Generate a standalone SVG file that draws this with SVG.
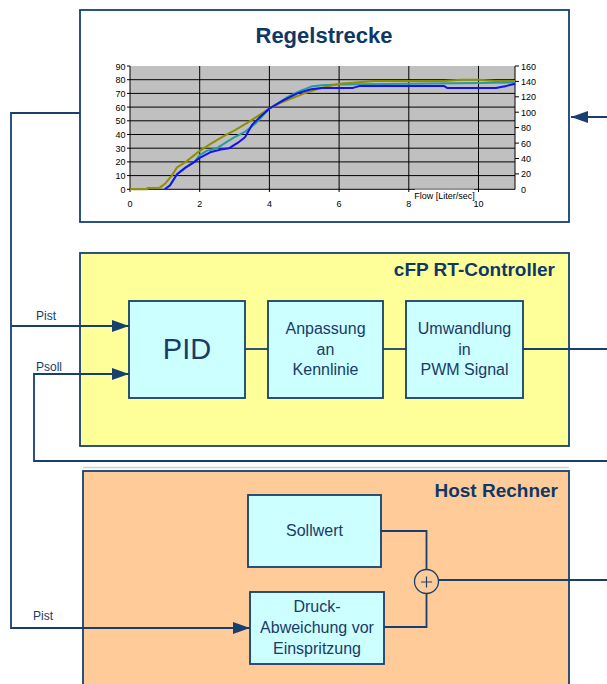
<svg xmlns="http://www.w3.org/2000/svg" width="607" height="684" viewBox="0 0 607 684">
<style>
.panel{stroke:#17406f;stroke-width:1.8}
.node{fill:#ccffff;stroke:#17406f;stroke-width:1.8}
.t{font-family:"Liberation Sans",Arial,sans-serif;fill:#1a3a68}
.title{font-family:"Liberation Sans",Arial,sans-serif;font-weight:bold;fill:#0f3866}
.lbl{font-family:"Liberation Sans",Arial,sans-serif;font-size:16px;fill:#1a3a68;text-anchor:middle}
.ax{font-family:"Liberation Sans",Arial,sans-serif;font-size:9px;fill:#000}
.grid{stroke:#000;stroke-width:1}
.conn{fill:none;stroke:#17406f;stroke-width:1.8}
.curve{fill:none;stroke-width:2;stroke-linejoin:round}
</style>
<defs>
<marker id="arr" viewBox="0 0 10 10" refX="10" refY="5" markerWidth="17" markerHeight="12" markerUnits="userSpaceOnUse" orient="auto" preserveAspectRatio="none">
<path d="M0,0 L10,5 L0,10 z" fill="#17406f"/>
</marker>
</defs>
<rect width="607" height="684" fill="#fff"/>

<g id="regelstrecke">
<rect class="panel" x="80" y="10" width="489" height="212" fill="#fff"/>
<text class="title" x="324" y="43" font-size="22" text-anchor="middle">Regelstrecke</text>
<rect x="130" y="66" width="385" height="123.3" fill="#c0c0c0"/>
<g class="grid">
<line x1="130" y1="175.6" x2="515" y2="175.6"/>
<line x1="130" y1="161.9" x2="515" y2="161.9"/>
<line x1="130" y1="148.2" x2="515" y2="148.2"/>
<line x1="130" y1="134.5" x2="515" y2="134.5"/>
<line x1="130" y1="120.8" x2="515" y2="120.8"/>
<line x1="130" y1="107.1" x2="515" y2="107.1"/>
<line x1="130" y1="93.4" x2="515" y2="93.4"/>
<line x1="130" y1="79.7" x2="515" y2="79.7"/>
<line x1="199.7" y1="66" x2="199.7" y2="192"/>
<line x1="269.4" y1="66" x2="269.4" y2="192"/>
<line x1="339.1" y1="66" x2="339.1" y2="192"/>
<line x1="408.8" y1="66" x2="408.8" y2="192"/>
<line x1="478.5" y1="66" x2="478.5" y2="192"/>
<line x1="130" y1="66" x2="130" y2="192"/>
<line x1="515" y1="66" x2="515" y2="189.3"/>
<line x1="127" y1="189.3" x2="515" y2="189.3"/>
<line x1="127" y1="175.6" x2="130" y2="175.6"/>
<line x1="127" y1="161.9" x2="130" y2="161.9"/>
<line x1="127" y1="148.2" x2="130" y2="148.2"/>
<line x1="127" y1="134.5" x2="130" y2="134.5"/>
<line x1="127" y1="120.8" x2="130" y2="120.8"/>
<line x1="127" y1="107.1" x2="130" y2="107.1"/>
<line x1="127" y1="93.4" x2="130" y2="93.4"/>
<line x1="127" y1="79.7" x2="130" y2="79.7"/>
<line x1="127" y1="66" x2="130" y2="66"/>
<line x1="515" y1="173.9" x2="519" y2="173.9"/>
<line x1="515" y1="158.5" x2="519" y2="158.5"/>
<line x1="515" y1="143.1" x2="519" y2="143.1"/>
<line x1="515" y1="127.6" x2="519" y2="127.6"/>
<line x1="515" y1="112.2" x2="519" y2="112.2"/>
<line x1="515" y1="96.8" x2="519" y2="96.8"/>
<line x1="515" y1="81.4" x2="519" y2="81.4"/>
<line x1="515" y1="66" x2="519" y2="66"/>
</g>
<polyline class="curve" stroke="#2a9a9a" points="164.9,189.3 170.1,185.2 177,174.2 185.8,167.4 194.5,161.9 199.7,155.1 206.7,150.9 217.1,148.2 227.6,141.4 234.6,137.2 245,131.8 255.5,123.5 269.4,108.5 286.8,97.5 300.8,90.7 311.2,86.6 321.7,85.2 339.1,84.5 408.8,83.8 478.5,83.1 515.1,82.4"/>
<polyline class="curve" stroke="#8f8f00" points="130,189.3 147.4,189.3 147.4,187.9 159.6,187.9 164.9,183.8 171.8,175.6 177,167.4 185.8,161.9 199.7,150.9 210.2,144.1 224.1,135.9 234.6,130.4 248.5,122.2 258.9,115.3 269.4,108.5 279.9,103 293.8,97.5 304.3,93.4 321.7,87.9 339.1,83.8 356.5,82.4 374,81.1 443.7,81.1 461.1,79.7 478.5,79.7 495.9,81.1 515.1,81.1"/>
<polyline class="curve" stroke="#1010ff" points="164.9,189.3 170.1,185.2 177,174.2 185.8,167.4 194.5,161.9 199.7,157.8 210.2,152.3 220.6,149.6 229.3,148.2 238,142.7 245,137.2 252,124.9 258.9,118.1 269.4,108.5 283.3,100.3 297.3,93.4 311.2,89.3 321.7,87.9 353,87.9 360,85.9 443.7,85.9 447.1,87.9 495.9,87.9 506.4,85.9 515.1,83.8"/>
<g class="ax" text-anchor="end">
<text x="125.5" y="69.5">90</text>
<text x="125.5" y="83.2">80</text>
<text x="125.5" y="96.9">70</text>
<text x="125.5" y="110.6">60</text>
<text x="125.5" y="124.3">50</text>
<text x="125.5" y="138">40</text>
<text x="125.5" y="151.7">30</text>
<text x="125.5" y="165.4">20</text>
<text x="125.5" y="179.1">10</text>
<text x="125.5" y="192.8">0</text>
</g>
<g class="ax" font-size="8.5">
<text x="521" y="69.5">160</text>
<text x="521" y="84.9">140</text>
<text x="521" y="100.3">120</text>
<text x="521" y="115.7">100</text>
<text x="521" y="131.1">80</text>
<text x="521" y="146.6">60</text>
<text x="521" y="162">40</text>
<text x="521" y="177.4">20</text>
<text x="521" y="192.8">0</text>
</g>
<g class="ax" text-anchor="middle">
<text x="130" y="207">0</text>
<text x="199.7" y="207">2</text>
<text x="269.4" y="207">4</text>
<text x="339.1" y="207">6</text>
<text x="408.8" y="207">8</text>
<text x="478.5" y="207">10</text>
</g>
<rect x="415" y="189.5" width="59" height="12" fill="#fff"/>
<text class="ax" x="444.5" y="198.5" font-size="8" text-anchor="middle">Flow [Liter/sec]</text>
</g>

<g id="controller">
<rect class="panel" x="80" y="253" width="489" height="193" fill="#ffff99"/>
<text class="title" x="555" y="276" font-size="19" text-anchor="end">cFP RT-Controller</text>
</g>
<g id="pid">
<rect class="node" x="129" y="301" width="116" height="97"/>
<text class="t" x="187" y="359" font-size="29" text-anchor="middle">PID</text>
</g>
<g id="anpassung">
<rect class="node" x="268" y="301" width="115" height="97"/>
<text class="lbl" x="325.5" y="334">Anpassung</text>
<text class="lbl" x="325.5" y="355">an</text>
<text class="lbl" x="325.5" y="375">Kennlinie</text>
</g>
<g id="umwandlung">
<rect class="node" x="406" y="301" width="117" height="97"/>
<text class="lbl" x="464.5" y="334">Umwandlung</text>
<text class="lbl" x="464.5" y="355">in</text>
<text class="lbl" x="464.5" y="375">PWM Signal</text>
</g>

<line x1="83" y1="467.5" x2="569" y2="467.5" stroke="#c8d2de" stroke-width="1.5"/>
<g id="host">
<rect class="panel" x="83" y="471" width="486" height="220" fill="#ffcc99"/>
<text class="title" x="558" y="497" font-size="19" text-anchor="end">Host Rechner</text>
</g>
<g id="sollwert">
<rect class="node" x="248" y="495" width="133" height="72"/>
<text class="lbl" x="314.5" y="536">Sollwert</text>
</g>
<g id="druck">
<rect class="node" x="250" y="592" width="134" height="72"/>
<text class="lbl" x="317" y="612">Druck-</text>
<text class="lbl" x="317" y="633">Abweichung vor</text>
<text class="lbl" x="317" y="654">Einspritzung</text>
</g>
<g id="summe">
<circle cx="426.5" cy="581.5" r="12" fill="#ffcc99" stroke="#17406f" stroke-width="1.3"/>
<path d="M421,582 H432 M426.5,576.5 V587.5" stroke="#17406f" stroke-width="1.2" fill="none"/>
</g>

<g id="connectors">
<path class="conn" d="M80,113 H11 V628 H250" marker-end="url(#arr)"/>
<path class="conn" d="M11,326 H129" marker-end="url(#arr)"/>
<path class="conn" d="M607,461 H34 V374 H129" marker-end="url(#arr)"/>
<path class="conn" d="M607,117 H571" marker-end="url(#arr)"/>
<path class="conn" d="M245,349 H268"/>
<path class="conn" d="M383,349 H406"/>
<path class="conn" d="M523,349 H607"/>
<path class="conn" d="M381,531 H426.5 V569.5"/>
<path class="conn" d="M384,627 H426.5 V593.5"/>
<path class="conn" d="M438.5,580 H607"/>
<text class="t" x="36" y="320" font-size="12">Pist</text>
<text class="t" x="36" y="371" font-size="12">Psoll</text>
<text class="t" x="33" y="620" font-size="12">Pist</text>
</g>
</svg>
